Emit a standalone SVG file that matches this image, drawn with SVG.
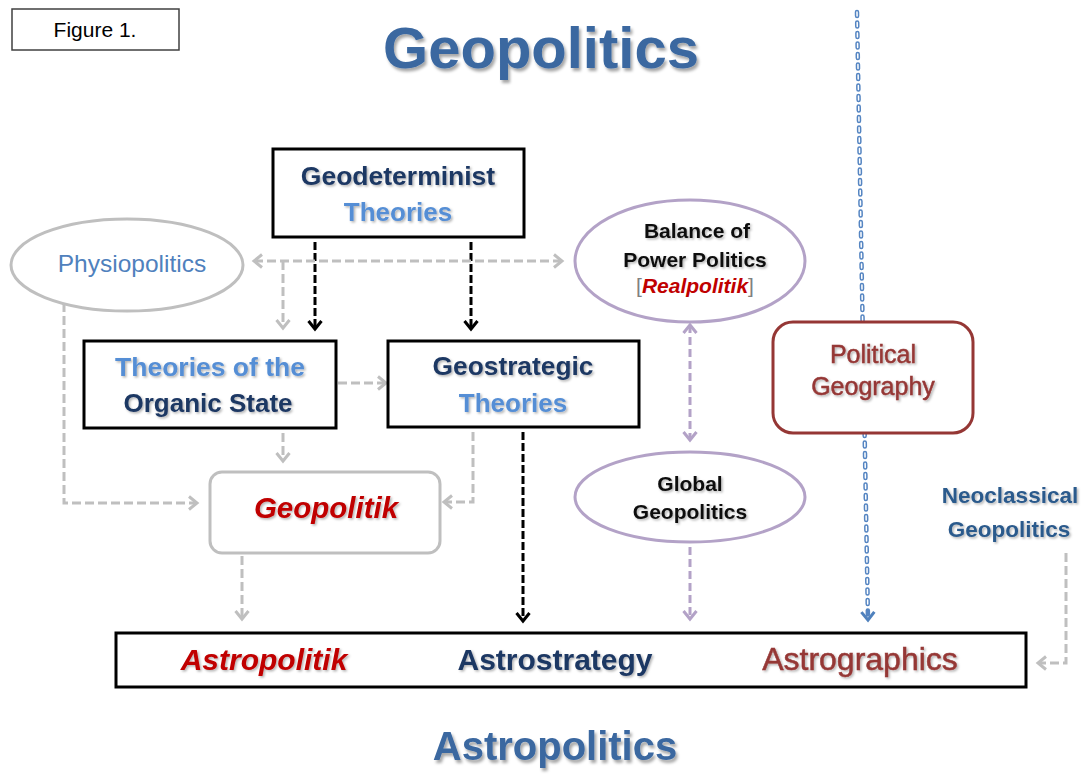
<svg xmlns="http://www.w3.org/2000/svg" width="1082" height="774" viewBox="0 0 1082 774">
<defs>
<style>
.t{font-family:"Liberation Sans",Arial,sans-serif}
.b{font-weight:bold}
.i{font-style:italic}
.c{text-anchor:middle}
.sh{filter:url(#sh)}
.shT{filter:url(#shT)}
.navy{fill:#1F3864}
.lb{fill:#558ED5}
.red{fill:#C00000}
.dred{fill:#953735;stroke:#953735;stroke-width:0.5}
.box{fill:#fff;stroke:#000;stroke-width:3}
.gd{fill:none;stroke:#BFBFBF;stroke-width:3;stroke-dasharray:9 4}
.kd{fill:none;stroke:#000;stroke-width:3;stroke-dasharray:8 3}
.pd{fill:none;stroke:#B3A2C7;stroke-width:3;stroke-dasharray:8 4}
</style>
<filter id="sh" x="-10%" y="-30%" width="130%" height="170%"><feDropShadow dx="1.5" dy="1.5" stdDeviation="1" flood-color="#000" flood-opacity="0.3"/></filter>
<filter id="shT" x="-10%" y="-30%" width="130%" height="170%"><feDropShadow dx="2" dy="3" stdDeviation="1.5" flood-color="#000" flood-opacity="0.35"/></filter>
<marker id="ag" markerUnits="userSpaceOnUse" viewBox="0 0 20 20" markerWidth="20" markerHeight="20" refX="10" refY="10" orient="auto-start-reverse"><path d="M2,3.5 L10,10 L2,16.5" fill="none" stroke="#BFBFBF" stroke-width="3"/></marker>
<marker id="ak" markerUnits="userSpaceOnUse" viewBox="0 0 20 20" markerWidth="20" markerHeight="20" refX="10" refY="10" orient="auto-start-reverse"><path d="M2,3.5 L10,10 L2,16.5" fill="none" stroke="#000" stroke-width="3"/></marker>
<marker id="ap" markerUnits="userSpaceOnUse" viewBox="0 0 20 20" markerWidth="20" markerHeight="20" refX="10" refY="10" orient="auto-start-reverse"><path d="M2,3.5 L10,10 L2,16.5" fill="none" stroke="#B3A2C7" stroke-width="3"/></marker>
<marker id="ab" markerUnits="userSpaceOnUse" viewBox="0 0 20 20" markerWidth="20" markerHeight="20" refX="10" refY="10" orient="auto"><path d="M2,3.5 L10,10 L2,16.5" fill="none" stroke="#4F81BD" stroke-width="3"/></marker>
</defs>
<rect width="1082" height="774" fill="#fff"/>

<g id="connectors">
<path class="kd" d="M315,242 V329" marker-end="url(#ak)"/>
<path class="kd" d="M471,242 V329" marker-end="url(#ak)"/>
<path class="gd" d="M254,261 H562" marker-start="url(#ag)" marker-end="url(#ag)"/>
<path class="gd" d="M283,261 V328" marker-end="url(#ag)"/>
<path class="gd" d="M338,383 H386" marker-end="url(#ag)"/>
<path class="gd" d="M283,433 V461" marker-end="url(#ag)"/>
<path class="gd" d="M64,303 V503 H197" marker-end="url(#ag)"/>
<path class="gd" d="M473,432 V502 H444" marker-end="url(#ag)"/>
<path class="kd" d="M523,432 V621" marker-end="url(#ak)"/>
<path class="gd" d="M242,556 V619" marker-end="url(#ag)"/>
<path class="pd" d="M690,325 V440" marker-start="url(#ap)" marker-end="url(#ap)"/>
<path class="pd" d="M690,547 V619" marker-end="url(#ap)"/>
<path d="M857,12 L868,620" fill="none" stroke="#5585C2" stroke-width="4.5" stroke-linecap="round" stroke-dasharray="4 6.5" marker-end="url(#ab)"/>
<path d="M857,12 L867.8,610" fill="none" stroke="#fff" stroke-width="1.5" stroke-linecap="round" stroke-dasharray="4 6.5"/>
<path class="gd" d="M1066,553 V663 H1038" marker-end="url(#ag)"/>
</g>

<g id="figure-label">
<rect x="12" y="9" width="167" height="41" fill="#fff" stroke="#404040" stroke-width="1.5"/>
<text class="t c" x="95" y="37" font-size="21" fill="#000">Figure 1.</text>
</g>

<g id="title-geopolitics">
<text class="t b c shT" x="541" y="68" font-size="58" fill="#3A67A0">Geopolitics</text>
</g>

<g id="geodeterminist">
<rect class="box" x="273" y="149" width="251" height="88"/>
<text class="t b c sh navy" x="398" y="185" font-size="26.5">Geodeterminist</text>
<text class="t b c sh lb" x="398" y="221" font-size="26">Theories</text>
</g>

<g id="physiopolitics">
<ellipse cx="127" cy="265" rx="116" ry="46" fill="#fff" stroke="#BFBFBF" stroke-width="3"/>
<text class="t c" x="132" y="272" font-size="24.5" fill="#4F81BD">Physiopolitics</text>
</g>

<g id="balance">
<ellipse cx="690" cy="261" rx="115" ry="61" fill="#fff" stroke="#B3A2C7" stroke-width="3"/>
<text class="t b c sh" x="697" y="238" font-size="21" fill="#0D0D0D">Balance of</text>
<text class="t b c sh" x="695" y="267" font-size="21" fill="#0D0D0D">Power Politics</text>
<text class="t c" x="695" y="293" font-size="21"><tspan fill="#808080">[</tspan><tspan class="b i red">Realpolitik</tspan><tspan fill="#808080">]</tspan></text>
</g>

<g id="organic-state">
<rect class="box" x="84" y="341" width="252" height="87"/>
<text class="t b c sh lb" x="210" y="376" font-size="26.5">Theories of the</text>
<text class="t b c sh navy" x="208" y="412" font-size="26">Organic State</text>
</g>

<g id="geostrategic">
<rect class="box" x="388" y="341" width="251" height="86"/>
<text class="t b c sh navy" x="513" y="375" font-size="26.3">Geostrategic</text>
<text class="t b c sh lb" x="513" y="412" font-size="26">Theories</text>
</g>

<g id="geopolitik">
<rect x="210" y="472" width="230" height="81" rx="12" fill="#fff" stroke="#BFBFBF" stroke-width="3"/>
<text class="t b i c sh red" x="326" y="518" font-size="29.5">Geopolitik</text>
</g>

<g id="global-geopolitics">
<ellipse cx="690" cy="497" rx="115" ry="45" fill="#fff" stroke="#B3A2C7" stroke-width="3"/>
<text class="t b c sh" x="690" y="491" font-size="21" fill="#0D0D0D">Global</text>
<text class="t b c sh" x="690" y="519" font-size="21" fill="#0D0D0D">Geopolitics</text>
</g>

<g id="political-geography">
<rect x="773" y="322" width="200" height="111" rx="20" fill="#fff" stroke="#953735" stroke-width="3"/>
<text class="t c sh dred" x="873" y="363" font-size="25">Political</text>
<text class="t c sh dred" x="873" y="395" font-size="25">Geography</text>
</g>

<g id="neoclassical">
<text class="t b c sh" x="1010" y="503" font-size="22.5" fill="#2C5A8C">Neoclassical</text>
<text class="t b c sh" x="1009" y="537" font-size="22.5" fill="#2C5A8C">Geopolitics</text>
</g>

<g id="astro-box">
<rect class="box" x="116" y="633" width="910" height="54"/>
<text class="t b i c sh red" x="264" y="670" font-size="30">Astropolitik</text>
<text class="t b c sh navy" x="555" y="670" font-size="30">Astrostrategy</text>
<text class="t c sh dred" x="860" y="670" font-size="32">Astrographics</text>
</g>

<g id="title-astropolitics">
<text class="t b c shT" x="555" y="760" font-size="40" fill="#3A67A0">Astropolitics</text>
</g>
</svg>
